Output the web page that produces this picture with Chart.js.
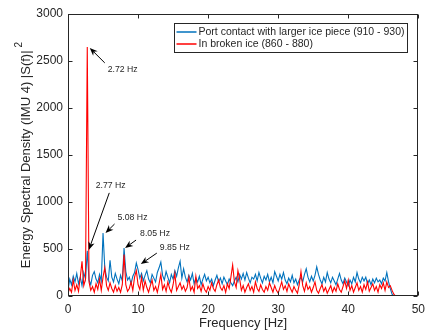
<!DOCTYPE html>
<html lang="en">
<head>
<meta charset="UTF-8">
<title>Energy Spectral Density (IMU 4)</title>
<script src="https://cdn.jsdelivr.net/npm/chart.js"></script>
<style>
  html, body { margin: 0; padding: 0; background: #fff; }
</style>
</head>
<body>
<canvas id="esd" width="431" height="335"></canvas>
<script>
// frequency bin width of the arrays below [Hz], first bin at 0 Hz
const binWidth = 0.25;

const freqTicks = [0, 10, 20, 30, 40, 50];
const esdTicks = [0, 500, 1000, 1500, 2000, 2500, 3000];

const seriesNames = ['Port contact with larger ice piece (910 - 930)', 'In broken ice (860 - 880)'];

// one row per Hz: values at n, n+0.25, n+0.5, n+0.75
const contactESD = [
  60, 180, 120, 210,    150, 240, 130, 200,    110, 250, 180, 480,    170, 120, 220, 260,
  180, 140, 230, 160,   670, 300, 200, 160,    380, 200, 150, 240,    180, 130, 220, 160,
  510, 260, 170, 200,   130, 210, 250, 350,    280, 190, 240, 160,    220, 270, 180, 140,
  230, 190, 150, 250,   300, 360, 220, 170,    260, 200, 140, 230,    180, 270, 210, 300,
  370, 190, 290, 200,   150, 220, 170, 240,    130, 190, 150, 210,    120, 180, 230, 160,
  200, 140, 180, 110,   170, 220, 150, 190,    130, 200, 160, 120,    180, 140, 110, 160,
  200, 150, 230, 180,   240, 170, 250, 190,    140, 200, 180, 230,    160, 250, 190, 140,
  210, 170, 230, 150,   200, 140, 260, 210,    160, 230, 180, 250,    170, 130, 190, 150,
  220, 140, 180, 120,   170, 200, 150, 230,    290, 200, 150, 210,    160, 220, 310, 230,
  170, 130, 200, 150,   250, 180, 140, 200,    160, 120, 180, 240,    170, 130, 190, 150,
  110, 170, 130, 200,   150, 250, 180, 140,    200, 160, 200, 130,    170, 120, 180, 140,
  190, 150, 170, 130,   190, 160, 250, 150,    80, 20, 0, 0,          0, 0, 0, 0,
  0, 0, 0, 0,           0, 0, 0, 0,            0
];

const brokenESD = [
  30, 80, 40, 170,      60, 120, 50, 200,      370, 110, 180, 2650,   150, 60, 100, 40,
  130, 70, 180, 60,     200, 300, 110, 60,     140, 80, 40, 110,      50, 90, 40, 120,
  440, 120, 50, 80,     150, 60, 200, 270,     120, 70, 200, 60,      160, 90, 40, 110,
  170, 60, 100, 40,     130, 230, 70, 120,     50, 150, 80, 40,       120, 240, 60, 100,
  140, 70, 110, 50,     90, 200, 60, 100,      40, 210, 80, 110,      50, 130, 70, 40,
  100, 60, 140, 80,     50, 120, 170, 90,      60, 110, 40, 130,      80, 200, 330, 150,
  90, 270, 180, 60,     110, 40, 90, 130,      60, 100, 40, 150,      80, 50, 120, 70,
  40, 100, 60, 140,     90, 40, 110, 60,       30, 90, 150, 70,       110, 50, 130, 80,
  40, 100, 60, 30,      120, 260, 110, 50,     140, 70, 100, 40,      90, 150, 60, 30,
  80, 120, 50, 90,      30, 70, 110, 40,       90, 50, 130, 70,       40, 100, 160, 80,
  170, 60, 110, 40,     90, 140, 60, 100,      40, 120, 70, 150,      50, 90, 130, 60,
  100, 40, 120, 80,     140, 60, 150, 90,      110, 60, 20, 0,        0, 0, 0, 0,
  0, 0, 0, 0,           0, 0, 0, 0,            0
];

// peak labels: which series and frequency bin they point at,
// arrow tip / tail and text given as pixel offsets from that point
const peakLabels = [
  { text: '2.72 Hz', series: 1, freq: 2.75, tip: [2.5, 1],  tail: [17.5, 16],  label: [20.5, 23] },
  { text: '2.77 Hz', series: 0, freq: 2.75, tip: [1.5, -1], tail: [22, -58],   label: [8.5, -65] },
  { text: '5.08 Hz', series: 0, freq: 5.0,  tip: [2.5, 0],  tail: [11.5, -9],  label: [14.5, -15] },
  { text: '8.05 Hz', series: 0, freq: 8.0,  tip: [1, 0],    tail: [12, -8],    label: [16, -14] },
  { text: '9.85 Hz', series: 0, freq: 9.75, tip: [4.5, 1],  tail: [20.5, -10], label: [23.5, -15] }
];

const yTitle = 'Energy Spectral Density (IMU 4) |S(f)|';
const yTitleSup = '2';

const FONT = '"Liberation Sans", Arial, Helvetica, sans-serif';
const TEXT = '#262626';
const BLUE = '#0072BD';
const RED = '#FF0000';

function toPoints(values) {
  return values.map((v, i) => ({ x: i * binWidth, y: v }));
}

// MATLAB style box, inward ticks, y title with superscript, legend and arrows
const matlabLook = {
  id: 'matlabLook',
  afterDatasetsDraw(chart) {
    const ctx = chart.ctx;
    const ca = chart.chartArea;
    const xs = chart.scales.x;
    const ys = chart.scales.y;
    const L = Math.round(ca.left) + 0.5, R = Math.round(ca.right) - 0.5;
    const T = Math.round(ca.top) + 0.5, B = Math.round(ca.bottom) - 0.5;

    ctx.save();
    ctx.strokeStyle = TEXT;
    ctx.lineWidth = 1;
    ctx.strokeRect(L, T, R - L, B - T);

    const tl = 4;
    ctx.beginPath();
    freqTicks.forEach(v => {
      const px = Math.round(xs.getPixelForValue(v)) + 0.5;
      ctx.moveTo(px, B); ctx.lineTo(px, B - tl);
      ctx.moveTo(px, T); ctx.lineTo(px, T + tl);
    });
    esdTicks.forEach(v => {
      const py = Math.round(ys.getPixelForValue(v)) + 0.5;
      ctx.moveTo(L, py); ctx.lineTo(L + tl, py);
      ctx.moveTo(R, py); ctx.lineTo(R - tl, py);
    });
    ctx.stroke();

    // y axis title
    ctx.fillStyle = TEXT;
    ctx.font = '13px ' + FONT;
    const w1 = ctx.measureText(yTitle).width;
    ctx.font = '10px ' + FONT;
    const w2 = ctx.measureText(yTitleSup).width;
    const total = w1 + 3 + w2;
    ctx.save();
    ctx.translate(26, (ca.top + ca.bottom) / 2);
    ctx.rotate(-Math.PI / 2);
    ctx.textBaseline = 'middle';
    ctx.textAlign = 'left';
    ctx.font = '13px ' + FONT;
    ctx.fillText(yTitle, -total / 2, 0);
    ctx.font = '10px ' + FONT;
    ctx.fillText(yTitleSup, -total / 2 + w1 + 3, -7);
    ctx.restore();

    // peak arrows
    ctx.font = '8.7px ' + FONT;
    ctx.textBaseline = 'middle';
    ctx.textAlign = 'left';
    peakLabels.forEach(a => {
      const meta = chart.getDatasetMeta(a.series);
      const idx = Math.round(a.freq / binWidth);
      const p = meta.data[idx];
      const tx = p.x + a.tip[0], ty = p.y + a.tip[1];
      const sx = p.x + a.tail[0], sy = p.y + a.tail[1];
      const ang = Math.atan2(ty - sy, tx - sx);
      const hl = 8, hw = 3.2;
      const bx = tx - hl * Math.cos(ang), by = ty - hl * Math.sin(ang);
      const nx = tx - hl * 0.7 * Math.cos(ang), ny = ty - hl * 0.7 * Math.sin(ang);
      ctx.strokeStyle = '#000';
      ctx.fillStyle = '#000';
      ctx.lineWidth = 1;
      ctx.beginPath();
      ctx.moveTo(sx, sy);
      ctx.lineTo(nx, ny);
      ctx.stroke();
      ctx.beginPath();
      ctx.moveTo(tx, ty);
      ctx.lineTo(bx - hw * Math.sin(ang), by + hw * Math.cos(ang));
      ctx.lineTo(nx, ny);
      ctx.lineTo(bx + hw * Math.sin(ang), by - hw * Math.cos(ang));
      ctx.closePath();
      ctx.fill();
      ctx.fillStyle = TEXT;
      ctx.fillText(a.text, p.x + a.label[0], p.y + a.label[1]);
    });

    // legend box, top right inside the axes
    ctx.font = '10.5px ' + FONT;
    const textW = Math.max(...seriesNames.map(s => ctx.measureText(s).width));
    const boxW = 2 + 20 + 2 + textW + 3;
    const boxH = 29;
    const bxR = Math.round(ca.right) - 10.5;
    const bxL = bxR - Math.round(boxW);
    const bxT = Math.round(ca.top) + 9.5;
    ctx.fillStyle = '#fff';
    ctx.fillRect(bxL, bxT, bxR - bxL, boxH);
    ctx.strokeStyle = TEXT;
    ctx.lineWidth = 1;
    ctx.strokeRect(bxL, bxT, bxR - bxL, boxH);
    [BLUE, RED].forEach((c, i) => {
      const ly = bxT + 8.5 + i * 12;
      ctx.strokeStyle = c;
      ctx.lineWidth = 1.5;
      ctx.beginPath();
      ctx.moveTo(bxL + 2, ly);
      ctx.lineTo(bxL + 22, ly);
      ctx.stroke();
      ctx.fillStyle = TEXT;
      ctx.fillText(seriesNames[i], bxL + 24, ly);
    });
    ctx.restore();
  }
};

new Chart(document.getElementById('esd'), {
  type: 'line',
  data: {
    datasets: [
      {
        label: seriesNames[0],
        data: toPoints(contactESD),
        borderColor: BLUE,
        borderWidth: 1.1,
        pointRadius: 0,
        fill: false,
        order: 1
      },
      {
        label: seriesNames[1],
        data: toPoints(brokenESD),
        borderColor: RED,
        borderWidth: 1.1,
        pointRadius: 0,
        fill: false,
        order: 0
      }
    ]
  },
  options: {
    responsive: false,
    animation: false,
    devicePixelRatio: 1,
    layout: { padding: { left: 0, right: 8, top: 14, bottom: 0 } },
    plugins: {
      legend: { display: false },
      tooltip: { enabled: false }
    },
    scales: {
      x: {
        type: 'linear',
        min: 0,
        max: 50,
        grid: { display: false, drawTicks: false },
        border: { display: false },
        afterBuildTicks: s => { s.ticks = freqTicks.map(v => ({ value: v })); },
        afterFit: s => { s.height = 39; },
        ticks: { color: TEXT, font: { family: FONT, size: 12 }, padding: 6, maxRotation: 0, callback: v => String(v) },
        title: { display: true, text: 'Frequency [Hz]', color: TEXT, font: { family: FONT, size: 13 }, padding: { top: 2, bottom: 4 } }
      },
      y: {
        min: 0,
        max: 3000,
        grid: { display: false, drawTicks: false },
        border: { display: false },
        afterBuildTicks: s => { s.ticks = esdTicks.map(v => ({ value: v })); },
        afterFit: s => { s.width = 68; },
        ticks: { color: TEXT, font: { family: FONT, size: 12 }, padding: 5, callback: v => String(v) }
      }
    }
  },
  plugins: [matlabLook]
});
</script>
</body>
</html>
